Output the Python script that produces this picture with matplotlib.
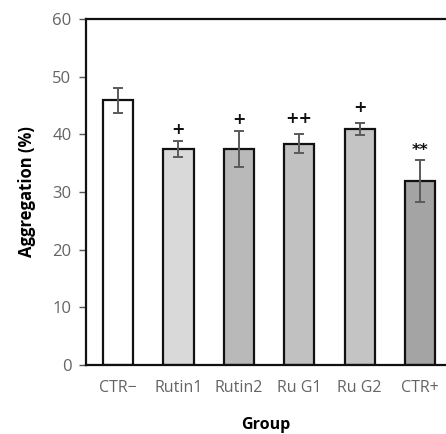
import matplotlib
matplotlib.use("Agg")
import matplotlib.pyplot as plt

# data
groups = ["CTR\u2212", "Rutin1", "Rutin2", "Ru G1", "Ru G2", "CTR+"]
aggregation = [45.9, 37.5, 37.4, 38.4, 40.9, 31.9]
sem = [2.2, 1.4, 3.1, 1.6, 1.0, 3.6]
marks = ["", "+", "+", "++", "+", "**"]
bar_colors = ["#ffffff", "#d9d9d9", "#b9b9b9", "#c1c1c1", "#c4c4c4", "#a4a4a4"]

plt.rcParams["font.family"] = ["Open Sans", "DejaVu Sans"]

fig = plt.figure(figsize=(4.46, 4.34), dpi=100)
ax = fig.add_axes([86 / 446, 1 - 365 / 434, 360 / 446, 346 / 434])

x = list(range(len(groups)))
ax.bar(x, aggregation, width=0.5, color=bar_colors, edgecolor="#111111",
       linewidth=1.6, zorder=2)
ax.errorbar(x, aggregation, yerr=sem, fmt="none", ecolor="#5a5a5a",
            elinewidth=1.4, capsize=3.5, capthick=1.4, zorder=3)

offsets = [0, 3, 3, 6, 6, 2]
for xi, yi, ei, m, off in zip(x, aggregation, sem, marks, offsets):
    if m:
        ax.annotate(m, (xi, yi + ei), xytext=(0, off), textcoords="offset points",
                    ha="center", va="bottom", fontsize=11.5, fontweight="bold",
                    color="#111111", family=["DejaVu Sans"])

ax.set_xlim(-0.53, 5.43)
ax.set_ylim(0, 60)
ax.set_yticks(range(0, 61, 10))
ax.set_xticks(x)
ax.set_xticklabels(groups)
ax.tick_params(axis="y", direction="out", length=5, width=1, color="#555555",
               labelsize=12, labelcolor="#646464", pad=5.5)
ax.tick_params(axis="x", length=0, labelsize=11.5, labelcolor="#646464", pad=11)

for side in ["left", "bottom", "top"]:
    ax.spines[side].set_linewidth(1.6)
    ax.spines[side].set_color("#111111")
ax.spines["right"].set_visible(False)

ax.set_ylabel("Aggregation (%)", fontsize=12, fontweight="bold", labelpad=12)
ax.set_xlabel("Group", fontsize=11.5, fontweight="bold", labelpad=15)

fig.savefig("out.png", dpi=100, facecolor="white")
